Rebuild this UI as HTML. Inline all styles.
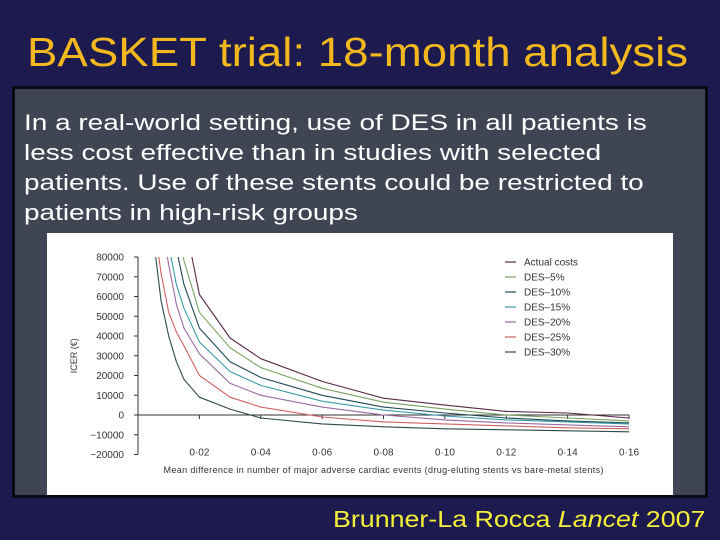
<!DOCTYPE html>
<html><head><meta charset="utf-8">
<style>
html,body{margin:0;padding:0}
body{width:720px;height:540px;background:#1c1a4e;position:relative;overflow:hidden;font-family:"Liberation Sans",sans-serif}
#title{position:absolute;left:27px;top:28px;color:#f2b81e;font-size:41px;line-height:48px;white-space:nowrap;transform-origin:0 0;transform:scaleX(1.113)}
#box{position:absolute;left:12px;top:86px;width:690px;height:406px;background:#3f4552;border:3px solid #0a0a12}
#body{position:absolute;left:24px;top:108px;color:#fff;font-size:22px;line-height:30px;white-space:nowrap;transform-origin:0 0;transform:scaleX(1.27)}
#chart{position:absolute;left:47px;top:233px}
#cite{position:absolute;left:333px;top:506px;color:#f6f03a;font-size:23px;white-space:nowrap;transform-origin:0 0;transform:scaleX(1.165)}
</style></head><body>
<div id="title">BASKET trial: 18-month analysis</div>
<div id="box"></div>
<div id="body">In a real-world setting, use of DES in all patients is<br>less cost effective than in studies with selected<br>patients. Use of these stents could be restricted to<br>patients in high-risk groups</div>
<svg id="chart" width="626" height="262"></svg>
<div id="cite">Brunner-La Rocca <i>Lancet</i> 2007</div>
<script>
const xs=[0.005,0.0075,0.01,0.0125,0.015,0.02,0.03,0.04,0.06,0.08,0.10,0.12,0.14,0.16];
const seriesNames=["Actual costs","DES\u20135%","DES\u201310%","DES\u201315%","DES\u201320%","DES\u201325%","DES\u201330%"];
const seriesColors=["#5a2a4a","#7aa060","#1f4a50","#3a9aa8","#9a6aa0","#d06060","#2f4a48"];
const sActual=[300000,220000,160000,120000,100000,61000,39000,28500,17000,8500,5000,1800,1000,-1500];
const s5=[260000,180000,130000,100000,78000,52000,34000,24000,13500,6500,3000,0,-1500,-3000];
const s10=[220000,150000,110000,84000,66000,44000,27000,19000,10000,4000,1000,-1500,-3000,-4000];
const s15=[180000,120000,86000,66000,54000,37000,22000,15000,7000,2500,-500,-2500,-3500,-4500];
const s20=[150000,100000,76000,56000,44000,31000,16000,10000,4000,0,-2500,-4000,-5000,-6000];
const s25=[100000,72000,52000,42000,35000,20000,9000,4000,-1000,-3500,-4500,-5500,-6500,-7000];
const s30=[90000,58000,40000,27000,18000,9000,3000,-1500,-4500,-6000,-7000,-7500,-8000,-8500];
const allSeries=[sActual,s5,s10,s15,s20,s25,s30];
const yTicks=[80000,70000,60000,50000,40000,30000,20000,10000,0,-10000,-20000];
const xTicks=[0.02,0.04,0.06,0.08,0.10,0.12,0.14,0.16];
const xTickLabels=["0\u00b702","0\u00b704","0\u00b706","0\u00b708","0\u00b710","0\u00b712","0\u00b714","0\u00b716"];

const svg=document.getElementById('chart');
const NS='http://www.w3.org/2000/svg';
const OX=47,OY=233;
const X=v=>138-OX+v*(629-138)/0.16;
const Y=v=>415-OY-v*(158/80000);
function mk(t,a){const e=document.createElementNS(NS,t);for(const k in a)e.setAttribute(k,a[k]);svg.appendChild(e);return e;}
const bg=mk('rect',{x:0,y:0,width:626,height:262,fill:'#fff'});


const defs=mk('defs',{});
const cp=document.createElementNS(NS,'clipPath');cp.setAttribute('id','pc');
const cr=document.createElementNS(NS,'rect');cr.setAttribute('x',X(0));cr.setAttribute('y',Y(80000));cr.setAttribute('width',X(0.16)-X(0)+2);cr.setAttribute('height',Y(-20000)-Y(80000));
cp.appendChild(cr);defs.appendChild(cp);
const ya=mk('line',{x1:X(0),y1:Y(80000),x2:X(0),y2:Y(-20000),stroke:'#333','stroke-width':1});


const xa=mk('line',{x1:X(0),y1:Y(0),x2:X(0.16),y2:Y(0),stroke:'#333','stroke-width':1});


yTicks.forEach(v=>{
 mk('line',{x1:X(0)-4,y1:Y(v),x2:X(0),y2:Y(v),stroke:'#333'});
 const t=mk('text',{x:X(0)-14,y:Y(v)+3.5,'text-anchor':'end','font-size':10,fill:'#333'});
 t.textContent=v<0?'\u2212'+(-v):String(v);
 
 
});
xTicks.forEach((v,i)=>{
 mk('line',{x1:X(v),y1:Y(0),x2:X(v),y2:Y(0)+4,stroke:'#333'});
 const t=mk('text',{x:X(v),y:Y(-20000)+1,'text-anchor':'middle','font-size':10,fill:'#333'});
 t.textContent=xTickLabels[i];
 
 
});
const yt=mk('text',{x:0,y:0,'text-anchor':'middle','font-size':9,fill:'#333',transform:`translate(${X(0)-61},${Y(30000)}) rotate(-90)`});
yt.textContent='ICER (\u20ac)';


const xt=mk('text',{x:(X(0)+X(0.16))/2,y:240,'text-anchor':'middle','font-size':9,fill:'#333',textLength:440});
xt.textContent='Mean difference in number of major adverse cardiac events (drug-eluting stents vs bare-metal stents)';


allSeries.forEach((s,i)=>{
 const d=s.map((v,j)=>(j?'L':'M')+X(xs[j]).toFixed(1)+','+Y(v).toFixed(1)).join('');
 const p=mk('path',{d:d,fill:'none',stroke:seriesColors[i],'stroke-width':1.1,'stroke-linejoin':'round','clip-path':'url(#pc)'});
 
 
});
seriesNames.forEach((n,i)=>{
 const y=262-OY+i*15;
 mk('line',{x1:505-OX,y1:y,x2:516-OX,y2:y,stroke:seriesColors[i],'stroke-width':1.2});
 const t=mk('text',{x:524-OX,y:y+3.5,'font-size':10,fill:'#333'});
 t.textContent=n;
 
 
});
</script>
</body></html>
